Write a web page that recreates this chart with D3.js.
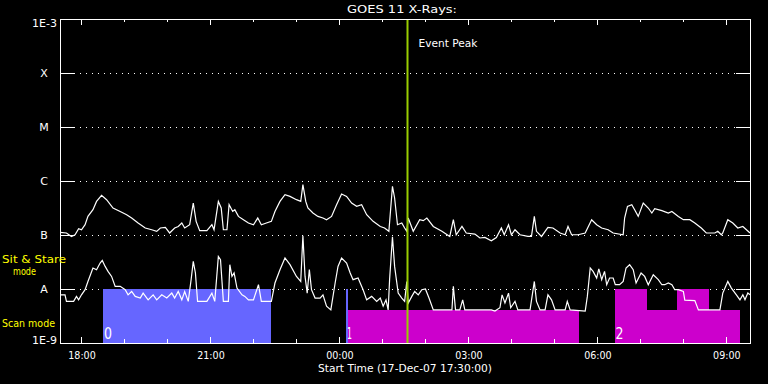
<!DOCTYPE html>
<html>
<head>
<meta charset="utf-8">
<script src="https://cdn.jsdelivr.net/npm/d3@7"></script>
<style>
  body { margin: 0; background: #000; }
  svg { display: block; font-family: "DejaVu Sans", sans-serif; }
</style>
</head>
<body>
<div id="chart"></div>
<script>
// ---- data ----
// times are minutes after the start time (17-Dec-07 17:30 UT)
let startTime = Date.UTC(2007, 11, 17, 17, 30);
let endMinute = 963;
let peakMinute = 485;

// long channel (1-8 A), values in units of 1e-7 W/m2
let longMinutes = [
  0, 9, 16, 21, 26, 30, 35, 39, 46, 51,
  58, 65, 74, 84, 93, 100, 109, 119, 128, 135,
  140, 147, 153, 160, 165, 170, 174, 181, 186, 190,
  195, 205, 212, 215, 221, 225, 228, 233, 236, 241,
  244, 249, 256, 263, 270, 276, 281, 288, 295, 300,
  307, 314, 321, 330, 336, 339, 343, 346, 353, 360,
  367, 372, 379, 386, 393, 400, 407, 414, 421, 428,
  437, 447, 453, 459, 464, 467, 471, 477, 481, 484,
  486, 493, 502, 507, 512, 521, 533, 544, 549, 553,
  561, 567, 579, 586, 593, 602, 609, 616, 620, 626,
  630, 635, 642, 653, 658, 662, 665, 672, 681, 688,
  698, 705, 709, 714, 723, 733, 742, 749, 756, 765,
  772, 786, 788, 792, 798, 802, 807, 814, 821, 826,
  830, 840, 849, 854, 863, 870, 879, 886, 895, 902,
  914, 918, 923, 925, 932, 939, 946, 953, 963
];
let longFlux = [
  1.12, 1.09, 0.94, 1.01, 1.31, 1.25, 1.55, 2.21, 2.94, 4.19,
  5.41, 4.51, 3.16, 2.73, 2.38, 2.06, 1.67, 1.35, 1.25, 1.17,
  1.35, 1.38, 1.09, 1.35, 1.44, 1.67, 1.35, 1.55, 3.91, 1.79,
  1.20, 1.20, 1.55, 1.25, 4.19, 3.16, 1.25, 1.25, 3.64, 2.73,
  2.94, 2.21, 1.92, 1.67, 1.55, 2.06, 1.55, 1.67, 1.79, 2.73,
  4.19, 5.57, 5.19, 4.51, 4.19, 8.54, 4.19, 3.16, 2.55, 2.21,
  2.06, 1.92, 2.21, 3.64, 5.74, 5.19, 3.91, 3.39, 3.64, 2.38,
  1.79, 1.44, 1.35, 1.17, 7.94, 4.85, 1.55, 1.67, 1.35, 1.17,
  2.06, 1.17, 1.92, 1.84, 2.06, 1.44, 1.17, 0.94, 1.92, 1.01,
  1.44, 1.09, 1.04, 0.88, 0.90, 0.78, 0.90, 1.35, 1.01, 1.55,
  1.01, 1.25, 1.01, 0.94, 0.94, 2.21, 1.17, 0.94, 1.38, 1.35,
  1.09, 1.01, 1.44, 1.01, 1.01, 1.09, 1.92, 1.55, 1.35, 1.25,
  1.09, 1.01, 2.06, 3.39, 3.64, 2.94, 2.21, 3.91, 3.16, 2.55,
  3.07, 2.82, 2.55, 2.73, 2.21, 1.92, 1.92, 1.67, 1.35, 1.09,
  1.09, 1.17, 1.01, 1.09, 1.92, 1.67, 1.35, 1.44, 1.09
];

// short channel (0.5-4 A), values in units of 1e-8 W/m2
let shortMinutes = [
  0, 7, 9, 19, 23, 26, 30, 35, 39, 46,
  51, 56, 59, 63, 67, 72, 77, 84, 91, 95,
  100, 105, 112, 116, 123, 130, 135, 142, 149, 156,
  160, 165, 170, 174, 179, 183, 186, 189, 192, 205,
  212, 216, 221, 224, 228, 235, 237, 240, 243, 247,
  254, 258, 263, 270, 277, 281, 295, 300, 307, 314,
  321, 330, 336, 339, 342, 345, 348, 351, 356, 363,
  367, 372, 378, 384, 388, 393, 400, 405, 409, 416,
  423, 428, 435, 442, 447, 451, 455, 458, 460, 464,
  467, 472, 477, 481, 484, 486, 491, 495, 500, 505,
  510, 515, 521, 547, 549, 552, 558, 562, 565, 602,
  607, 614, 617, 621, 626, 629, 635, 639, 656, 662,
  665, 670, 677, 681, 686, 691, 705, 708, 712, 733,
  736, 740, 744, 749, 752, 756, 760, 763, 767, 772,
  775, 781, 786, 790, 795, 800, 804, 811, 816, 821,
  828, 835, 840, 844, 849, 854, 858, 863, 870, 872,
  886, 891, 921, 925, 932, 937, 944, 949, 953, 956,
  960, 963
];
let shortFlux = [
  0.78, 0.78, 0.59, 0.59, 0.73, 0.63, 0.78, 0.97, 1.38, 2.45,
  2.28, 3.03, 3.39, 2.62, 2.12, 1.71, 1.12, 1.12, 0.97, 0.78,
  0.90, 0.73, 0.68, 0.84, 0.63, 0.78, 0.63, 0.78, 0.68, 0.84,
  0.68, 0.90, 0.63, 0.90, 0.59, 1.49, 3.24, 1.98, 0.59, 0.59,
  0.84, 0.59, 4.01, 3.49, 0.59, 0.59, 2.82, 1.71, 1.98, 1.04,
  0.78, 0.73, 0.63, 0.63, 1.20, 0.59, 0.59, 1.29, 2.28, 3.75,
  2.82, 1.71, 1.38, 9.71, 1.71, 0.84, 2.28, 0.97, 0.68, 0.68,
  0.78, 0.48, 0.41, 1.29, 2.62, 3.75, 3.03, 1.98, 1.49, 1.60,
  0.97, 0.63, 0.73, 0.59, 0.68, 0.48, 0.63, 0.41, 1.49, 9.30,
  2.62, 0.84, 0.68, 0.59, 1.38, 0.55, 0.73, 0.90, 0.78, 0.97,
  1.00, 0.68, 0.41, 0.41, 1.12, 0.41, 0.41, 0.63, 0.41, 0.41,
  0.39, 0.45, 0.78, 0.55, 0.84, 0.45, 0.59, 0.41, 0.41, 1.38,
  0.59, 0.41, 0.41, 0.78, 0.63, 0.41, 0.41, 0.59, 0.41, 0.39,
  0.73, 2.45, 2.12, 1.60, 2.35, 1.49, 2.12, 1.20, 1.60, 1.60,
  1.20, 1.20, 1.38, 2.45, 2.82, 2.28, 1.29, 1.98, 1.71, 1.20,
  1.84, 1.49, 1.20, 1.20, 1.29, 1.20, 0.97, 0.97, 0.90, 0.62,
  0.61, 0.41, 0.41, 0.84, 1.38, 1.04, 0.78, 0.63, 0.78, 0.63,
  0.84, 0.78
];

// flux levels on the y axis and their labels
let levelValues = [1e-3, 1e-4, 1e-5, 1e-6, 1e-7, 1e-8, 1e-9];
let levelLabels = ["1E-3", "X", "M", "C", "B", "A", "1E-9"];

// observing mode blocks
let modeStart = [60, 399, 402, 774, 819, 861, 906];
let modeEnd = [295, 402, 724, 819, 861, 906, 949];
let modeKind = ["stare", "stare", "scan", "stare", "scan", "stare", "scan"];
let modeSet = [0, 0, 1, 1, 1, 1, 1];
let modeTop = { stare: 1e-8, scan: 4.1e-9 };
let groupNames = ["0", "1", "2"];
let groupStart = [60, 399, 774];

// ---- layout ----
let svgWidth = 768;
let svgHeight = 384;
let margin = { top: 19, right: 18, bottom: 41, left: 60 };
let x0 = margin.left, x1 = svgWidth - margin.right;
let y0 = svgHeight - margin.bottom, y1 = margin.top;

let svg = d3.select("#chart").append("svg")
  .attr("width", svgWidth)
  .attr("height", svgHeight)
  .style("background", "#000");

let toDate = m => new Date(startTime + m * 60000);

let x = d3.scaleUtc()
  .domain([toDate(0), toDate(endMinute)])
  .range([x0, x1]);

let y = d3.scaleLog()
  .domain([1e-9, 1e-3])
  .range([y0, y1]);

let setColour = d3.scaleOrdinal([0, 1], ["#6666ff", "#cc00cc"]);

// dotted class lines
svg.append("g").selectAll("line")
  .data(levelValues.slice(1, 6))
  .join("line")
  .attr("x1", x0 + 14).attr("x2", x1 - 14)
  .attr("y1", d => Math.round(y(d)) + 0.5)
  .attr("y2", d => Math.round(y(d)) + 0.5)
  .attr("stroke", "#fff")
  .attr("stroke-dasharray", "1,5");

// mode blocks
svg.append("g").selectAll("rect")
  .data(modeStart.map((s, i) => ({ s: s, e: modeEnd[i], k: modeKind[i], set: modeSet[i] })))
  .join("rect")
  .attr("x", d => x(toDate(d.s)))
  .attr("width", d => x(toDate(d.e)) - x(toDate(d.s)))
  .attr("y", d => y(modeTop[d.k]))
  .attr("height", d => y0 - y(modeTop[d.k]))
  .attr("fill", d => setColour(d.set))
  .attr("shape-rendering", "crispEdges");

// flux curves
let line = d3.line()
  .x(d => x(toDate(d[0])))
  .y(d => y(d[1]));

let longData = longMinutes.map((m, i) => [m, longFlux[i] * 1e-7]);
let shortData = shortMinutes.map((m, i) => [m, shortFlux[i] * 1e-8]);

[longData, shortData].forEach(function(series) {
  svg.append("path")
    .datum(series)
    .attr("d", line)
    .attr("fill", "none")
    .attr("stroke", "#fff")
    .attr("stroke-width", 1.2);
});

// event peak marker
svg.append("line")
  .attr("x1", x(toDate(peakMinute))).attr("x2", x(toDate(peakMinute)))
  .attr("y1", y1).attr("y2", y0)
  .attr("stroke", "#99cc00")
  .attr("stroke-width", 2);

// axes: inward ticks on all four sides
function styleAxis(g) {
  g.selectAll("path, line").attr("stroke", "#fff").attr("shape-rendering", "crispEdges");
  g.selectAll("text").attr("fill", "#fff").attr("font-size", 10).attr("font-family", "DejaVu Sans");
}

let hourTicks = x.ticks(d3.utcHour.every(1));
let majorTicks = x.ticks(d3.utcHour.every(3));

svg.append("g").attr("transform", `translate(0,${y0})`)
  .call(d3.axisBottom(x).tickValues(hourTicks).tickSize(-4).tickSizeOuter(0).tickFormat(""))
  .call(styleAxis);
svg.append("g").attr("transform", `translate(0,${y0})`)
  .call(d3.axisBottom(x).tickValues(majorTicks).tickSize(-6).tickSizeOuter(0)
    .tickPadding(8.5).tickFormat(d3.utcFormat("%H:%M")))
  .call(styleAxis)
  .call(g => g.selectAll("text").attr("textLength", 27.5).attr("lengthAdjust", "spacingAndGlyphs"));

svg.append("g").attr("transform", `translate(0,${y1})`)
  .call(d3.axisTop(x).tickValues(hourTicks).tickSize(-3).tickSizeOuter(0).tickFormat(""))
  .call(styleAxis);
svg.append("g").attr("transform", `translate(0,${y1})`)
  .call(d3.axisTop(x).tickValues(majorTicks).tickSize(-6).tickSizeOuter(0).tickFormat(""))
  .call(styleAxis);

svg.append("g").attr("transform", `translate(${x0},0)`)
  .call(d3.axisLeft(y).tickValues(levelValues).tickSize(-14).tickSizeOuter(0).tickFormat(""))
  .call(styleAxis);
svg.append("g").attr("transform", `translate(${x1},0)`)
  .call(d3.axisRight(y).tickValues(levelValues).tickSize(-14).tickSizeOuter(0).tickFormat(""))
  .call(styleAxis);

// text helper
function addText(str, tx, ty, opts) {
  let t = svg.append("text")
    .attr("x", tx).attr("y", ty)
    .attr("fill", opts.fill || "#fff")
    .attr("font-size", opts.size || 11)
    .attr("text-anchor", opts.anchor || "start")
    .text(str);
  if (opts.len) t.attr("textLength", opts.len).attr("lengthAdjust", "spacingAndGlyphs");
  return t;
}

// y labels
levelLabels.forEach(function(lab, i) {
  let yy = y(levelValues[i]);
  if (lab.length > 1) {
    let base = i == 0 ? yy + 8 : yy + 1;
    addText(lab, 57, base, { anchor: "end", len: 25 });
  } else {
    addText(lab, 44, yy + 4.3, { anchor: "middle" });
  }
});

// mode captions on the left
addText("Sit & Stare", 2, 262.5, { fill: "#ffff00", len: 64 });
addText("mode", 13, 275, { fill: "#ffff00", len: 23 });
addText("Scan mode", 2, 327, { fill: "#ffff00", len: 53 });

// group numbers on the blocks
groupNames.forEach(function(n, i) {
  addText(n, x(toDate(groupStart[i])) + 1, 339, { size: 15, len: n == "1" ? 5 : 8 });
});

// titles
addText("GOES 11 X-Rays:", 402, 13, { anchor: "middle", len: 110 });
addText("Event Peak", x(toDate(peakMinute)) + 11, 46.5, { len: 59 });
addText("Start Time (17-Dec-07 17:30:00)", 405, 372, { anchor: "middle", size: 10, len: 174 });
</script>
</body>
</html>
